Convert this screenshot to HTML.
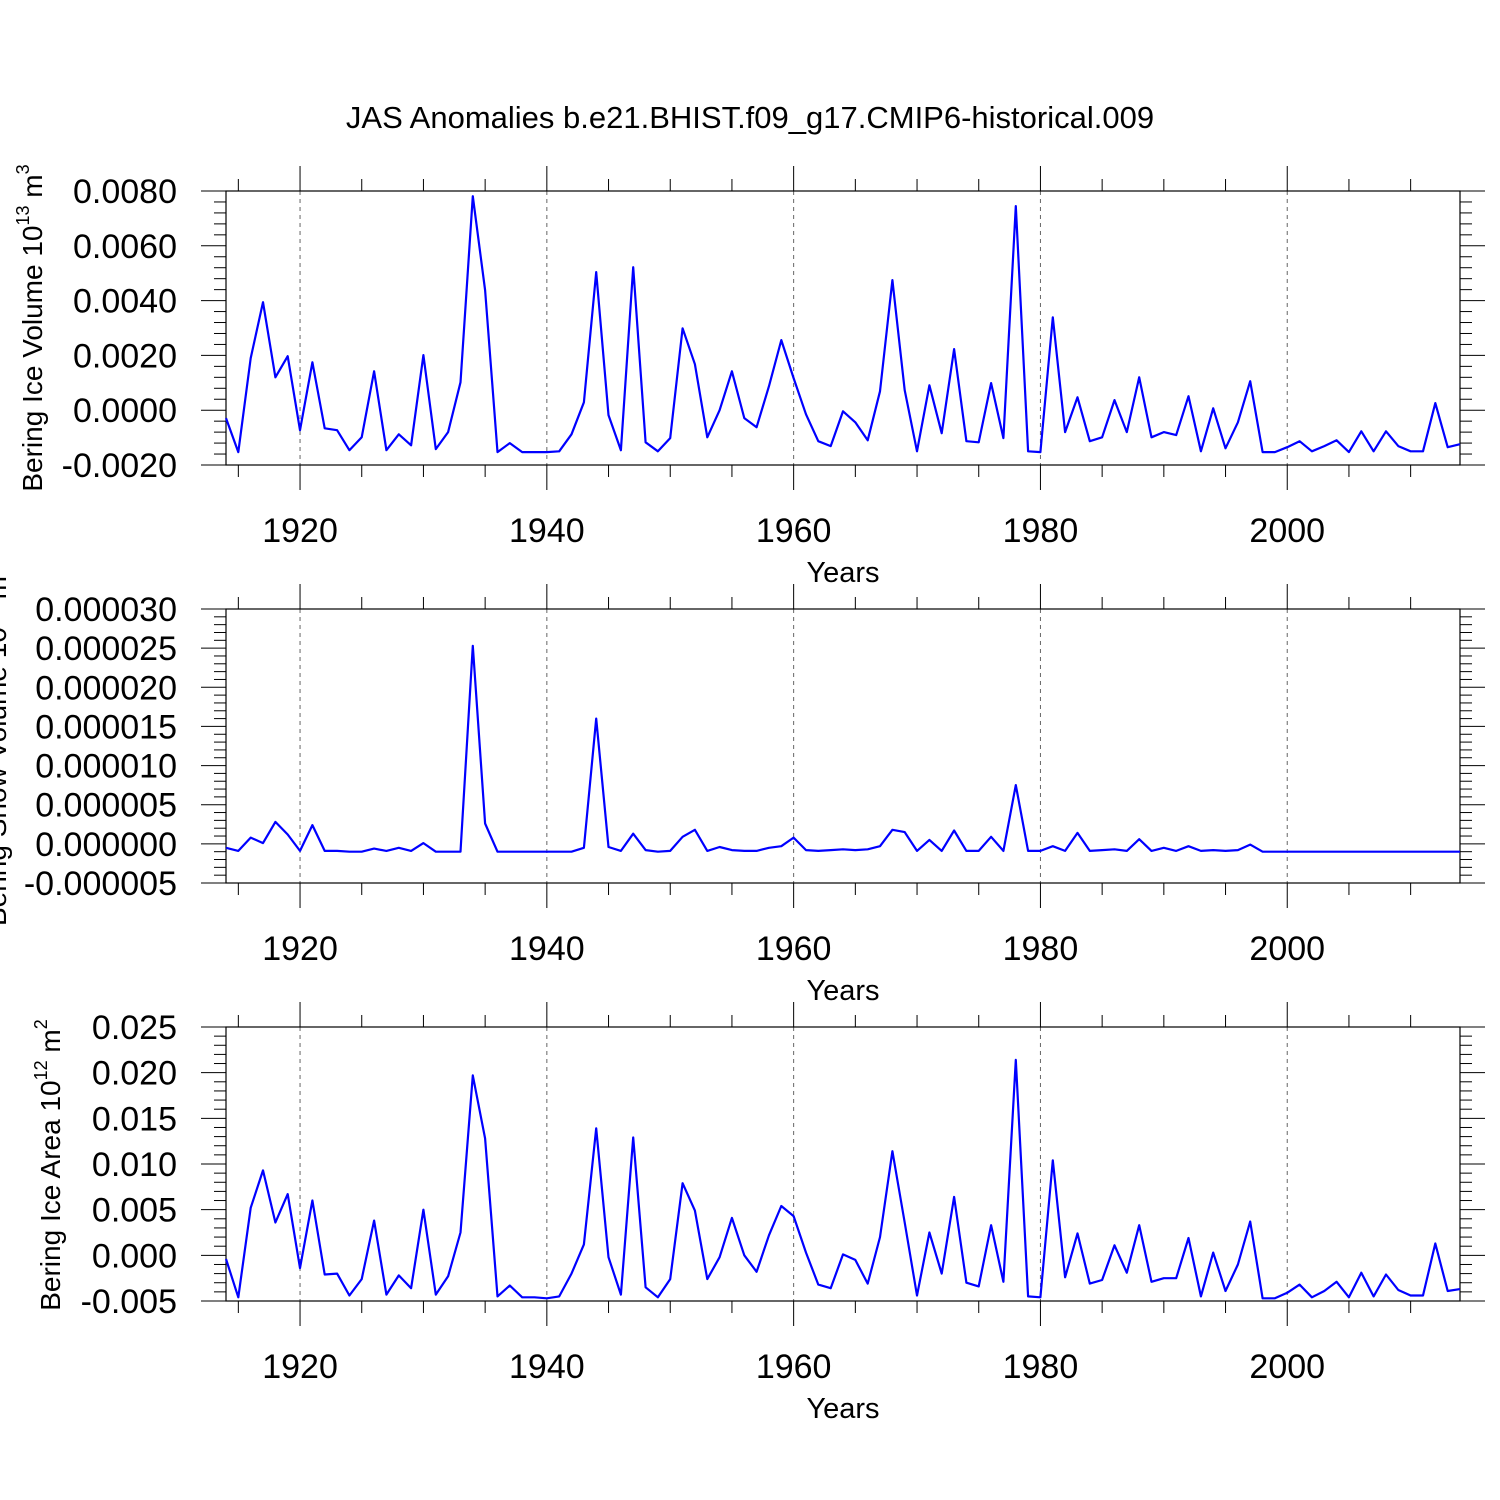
<!DOCTYPE html>
<html><head><meta charset="utf-8"><style>
html,body{margin:0;padding:0;background:#fff}
svg{display:block}
text{font-family:"Liberation Sans",Arial,sans-serif;fill:#000}
</style></head><body>
<svg id="chart" width="1500" height="1500" viewBox="0 0 1500 1500" xmlns="http://www.w3.org/2000/svg">
<rect width="1500" height="1500" fill="#fff"/>
<text x="750" y="128" font-size="31" text-anchor="middle">JAS Anomalies b.e21.BHIST.f09_g17.CMIP6-historical.009</text>
</svg>
<script>
const startYear = 1914;
const iceVolE4 = [-2.9,-15.3,19.0,39.4,12.0,19.7,-7.3,17.5,-6.6,-7.3,-14.6,-9.9,14.2,-14.6,-8.8,-12.8,20.1,-14.2,-8.0,10.2,78.1,43.8,-15.3,-12.0,-15.3,-15.3,-15.3,-15.0,-8.8,2.9,50.4,-1.8,-14.6,52.2,-11.7,-15.0,-10.2,29.9,16.8,-9.9,0,14.2,-2.9,-6.2,8.8,25.6,11.7,-1.5,-11.3,-13.1,-0.4,-4.4,-11.0,6.9,47.5,7.3,-15.0,9.1,-8.4,22.3,-11.3,-11.7,9.9,-10.2,74.5,-15.0,-15.3,33.9,-8.0,4.7,-11.3,-9.9,3.7,-8.0,12.0,-9.9,-8.0,-9.1,5.1,-15.0,0.7,-13.9,-4.4,10.6,-15.3,-15.3,-13.5,-11.3,-15.0,-13.1,-11.0,-15.3,-7.7,-15.0,-7.7,-13.1,-15.0,-15.0,2.6,-13.5,-12.4];
const snowVolE6 = [-0.5,-0.9,0.8,0.1,2.8,1.2,-0.9,2.4,-0.9,-0.9,-1,-1,-0.6,-0.9,-0.5,-0.9,0.1,-1,-1,-1,25.3,2.6,-1,-1,-1,-1,-1,-1,-1,-0.5,16,-0.4,-0.9,1.3,-0.8,-1,-0.9,0.9,1.8,-0.9,-0.4,-0.8,-0.9,-0.9,-0.5,-0.3,0.8,-0.8,-0.9,-0.8,-0.7,-0.8,-0.7,-0.3,1.8,1.5,-0.9,0.5,-0.9,1.7,-0.9,-0.9,0.9,-0.9,7.5,-0.9,-0.9,-0.3,-0.9,1.4,-0.9,-0.8,-0.7,-0.9,0.6,-0.9,-0.5,-0.9,-0.3,-0.9,-0.8,-0.9,-0.8,-0.1,-1,-1,-1,-1,-1,-1,-1,-1,-1,-1,-1,-1,-1,-1,-1,-1,-1];
const iceAreaE3 = [-0.4,-4.6,5.2,9.3,3.6,6.7,-1.4,6.0,-2.1,-2.0,-4.4,-2.6,3.8,-4.3,-2.2,-3.6,5.0,-4.3,-2.3,2.5,19.7,12.8,-4.5,-3.3,-4.6,-4.6,-4.7,-4.5,-2.0,1.2,13.9,-0.2,-4.3,12.9,-3.5,-4.6,-2.6,7.9,4.9,-2.6,-0.2,4.1,0,-1.8,2.2,5.4,4.3,0.3,-3.2,-3.6,0.1,-0.5,-3.1,2.0,11.4,3.6,-4.4,2.5,-2.0,6.4,-3.0,-3.4,3.3,-2.9,21.4,-4.5,-4.6,10.4,-2.4,2.4,-3.1,-2.7,1.1,-1.9,3.3,-2.9,-2.5,-2.5,1.9,-4.5,0.3,-3.9,-1.0,3.7,-4.7,-4.7,-4.1,-3.2,-4.6,-3.9,-2.9,-4.6,-1.9,-4.5,-2.1,-3.8,-4.4,-4.4,1.3,-3.9,-3.7];
const xTickYears = [1920,1940,1960,1980,2000];
const p1Ticks = ["-0.0020","0.0000","0.0020","0.0040","0.0060","0.0080"];
const p2Ticks = ["-0.000005","0.000000","0.000005","0.000010","0.000015","0.000020","0.000025","0.000030"];
const p3Ticks = ["-0.005","0.000","0.005","0.010","0.015","0.020","0.025"];

const NS='http://www.w3.org/2000/svg';
const svg=document.getElementById('chart');
const X0=226,X1=1460,Y0=startYear,Y1=2014;
function xs(yr){return X0+(yr-Y0)/(Y1-Y0)*(X1-X0);}
function mk(tag,attrs,parent){const e=document.createElementNS(NS,tag);for(const k in attrs)e.setAttribute(k,attrs[k]);(parent||svg).appendChild(e);return e;}

function panel(id,top,bot,ymin,ymax,ticks,vals,scale,ytitleHTML,tx,ty){
  const g=mk('g',{});
  
  
  const ys=v=>bot-(v-ymin)/(ymax-ymin)*(bot-top);
  xTickYears.forEach(yr=>{
    const l=mk('line',{x1:xs(yr),x2:xs(yr),y1:top,y2:bot,stroke:'#666','stroke-width':1,'stroke-dasharray':'4,4'},g);
    
    
  });
  for(let yr=1915;yr<=2010;yr+=5){
    const major=yr%20===0, len=major?25:12;
    mk('line',{x1:xs(yr),x2:xs(yr),y1:top,y2:top-len,stroke:'#000','stroke-width':1},g);
    mk('line',{x1:xs(yr),x2:xs(yr),y1:bot,y2:bot+len,stroke:'#000','stroke-width':1},g);
  }
  xTickYears.forEach(yr=>{
    const t=mk('text',{x:xs(yr),y:bot+77,'font-size':34,'text-anchor':'middle'},g);
    t.textContent=yr;
    
    
  });
  const xt=mk('text',{x:843,y:bot+117,'font-size':29,'text-anchor':'middle'},g);
  xt.textContent='Years';
  
  
  const n=ticks.length-1, step=(bot-top)/n;
  for(let i=0;i<=n;i++){
    const y=bot-i*step;
    mk('line',{x1:X0,x2:X0-25,y1:y,y2:y,stroke:'#000'},g);
    mk('line',{x1:X1,x2:X1+25,y1:y,y2:y,stroke:'#000'},g);
    if(i<n)for(let k=1;k<5;k++){const yy=y-k*step/5;
      mk('line',{x1:X0,x2:X0-12,y1:yy,y2:yy,stroke:'#000'},g);
      mk('line',{x1:X1,x2:X1+12,y1:yy,y2:yy,stroke:'#000'},g);}
    const t=mk('text',{x:177,y:y+12,'font-size':34,'text-anchor':'end'},g);
    t.textContent=ticks[i];
    
    
  }
  const box=mk('rect',{x:X0,y:top,width:X1-X0,height:bot-top,fill:'none',stroke:'#000','stroke-width':1.2},g);
  
  
  const pts=vals.map((v,i)=>xs(startYear+i).toFixed(1)+','+ys(v*scale).toFixed(1)).join(' ');
  const pl=mk('polyline',{points:pts,fill:'none',stroke:'#0000ff','stroke-width':2.2,'stroke-linejoin':'round'},g);
  
  
  const yt=mk('text',{x:tx,y:ty,'font-size':28,'text-anchor':'middle',transform:'rotate(-90 '+tx+' '+ty+')'},g);
  yt.innerHTML=ytitleHTML;
  
  
}
panel('ice-volume',191,465,-0.002,0.008,p1Ticks,iceVolE4,1e-4,'Bering Ice Volume 10<tspan font-size="18" dy="-13">13</tspan><tspan dy="13"> m</tspan><tspan font-size="18" dy="-13">3</tspan>',42,328);
panel('snow-volume',609,883,-0.000005,0.00003,p2Ticks,snowVolE6,1e-6,'Bering Snow Volume 10<tspan font-size="18" dy="-13">13</tspan><tspan dy="13"> m</tspan><tspan font-size="18" dy="-13">3</tspan>',6,746);
panel('ice-area',1027,1301,-0.005,0.025,p3Ticks,iceAreaE3,1e-3,'Bering Ice Area 10<tspan font-size="18" dy="-13">12</tspan><tspan dy="13"> m</tspan><tspan font-size="18" dy="-13">2</tspan>',60,1165);
</script>
</body></html>
